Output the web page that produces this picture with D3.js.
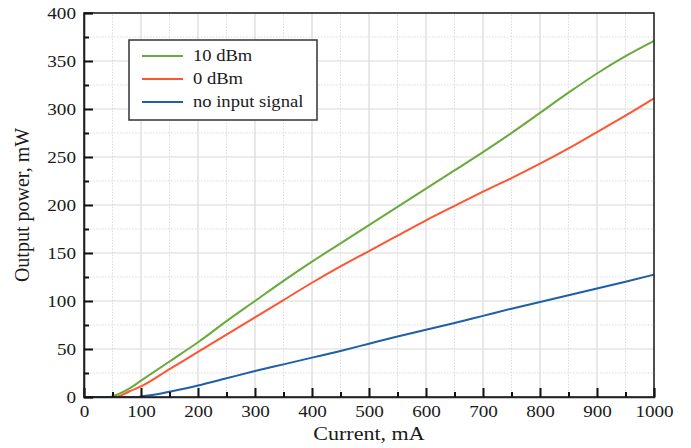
<!DOCTYPE html>
<html>
<head>
<meta charset="utf-8">
<script src="https://cdn.jsdelivr.net/npm/d3@7"></script>
<style>
  body { margin: 0; background: #fff; }
  svg text { font-family: 'Liberation Serif', 'Times New Roman', serif; }
</style>
</head>
<body>
<div id="chart"></div>
<script>
// currents in mA, power in mW
const current10 = [0, 45, 60, 80, 100, 150, 200, 250, 300, 350, 400, 450, 500, 550, 600, 650, 700, 750, 800, 850, 900, 950, 1000];
const power10 = [0, 0, 3, 9, 17, 37, 57, 79, 100, 121, 141, 160, 179, 198, 217, 236, 255, 275, 296, 317, 337, 355, 371];

const current0 = [0, 55, 70, 80, 100, 150, 200, 250, 300, 350, 400, 450, 500, 550, 600, 650, 700, 750, 800, 850, 900, 950, 1000];
const power0 = [0, 0, 3, 6, 11, 29, 47, 65, 83, 101, 119, 136, 152, 168, 184, 199, 214, 228, 243, 259, 276, 293, 311];

const currentNo = [0, 95, 100, 125, 150, 200, 250, 300, 350, 400, 450, 500, 550, 600, 650, 700, 750, 800, 850, 900, 950, 1000];
const powerNo = [0, 0, 0.5, 2.5, 5.5, 12, 19.5, 27, 34, 41, 48, 55.5, 63, 70, 77, 84.5, 92, 99, 106, 113, 120, 127.5];

const seriesNames = ['10 dBm', '0 dBm', 'no input signal'];
const seriesColors = ['#6aaa3c', '#ff5533', '#1f5fa6'];

const xTicks = [0, 100, 200, 300, 400, 500, 600, 700, 800, 900, 1000];
const yTicks = [0, 50, 100, 150, 200, 250, 300, 350, 400];

const series = [
  { name: seriesNames[0], color: seriesColors[0], pts: current10.map((c, i) => [c, power10[i]]) },
  { name: seriesNames[1], color: seriesColors[1], pts: current0.map((c, i) => [c, power0[i]]) },
  { name: seriesNames[2], color: seriesColors[2], pts: currentNo.map((c, i) => [c, powerNo[i]]) }
];

const width = 691, height = 448;
const margin = { top: 13, right: 37, bottom: 51, left: 84 };
const serif = "'Liberation Serif', 'Times New Roman', serif";
const stretch = 1.16; // the figure's lettering is a bit wider than it is tall

const svg = d3.select('#chart').append('svg')
  .attr('width', width)
  .attr('height', height);

const x = d3.scaleLinear().domain([0, 1000]).range([margin.left, width - margin.right]);
const y = d3.scaleLinear().domain([0, 400]).range([height - margin.bottom, margin.top]);

const grid = svg.append('g');
// minor grid
grid.selectAll('.vminor')
  .data(d3.range(50, 1000, 100))
  .join('line')
  .attr('x1', d => x(d)).attr('x2', d => x(d))
  .attr('y1', y(0)).attr('y2', y(400))
  .attr('stroke', '#dcdcdc').attr('stroke-width', 1).attr('stroke-dasharray', '1.5,1.5');
grid.selectAll('.hminor')
  .data(d3.range(25, 400, 50))
  .join('line')
  .attr('x1', x(0)).attr('x2', x(1000))
  .attr('y1', d => y(d)).attr('y2', d => y(d))
  .attr('stroke', '#dcdcdc').attr('stroke-width', 1).attr('stroke-dasharray', '1.5,1.5');
// major grid
grid.selectAll('.vmajor')
  .data(xTicks.slice(1, -1))
  .join('line')
  .attr('x1', d => x(d)).attr('x2', d => x(d))
  .attr('y1', y(0)).attr('y2', y(400))
  .attr('stroke', '#d9d9d9').attr('stroke-width', 1.2);
grid.selectAll('.hmajor')
  .data(yTicks.slice(1, -1))
  .join('line')
  .attr('x1', x(0)).attr('x2', x(1000))
  .attr('y1', d => y(d)).attr('y2', d => y(d))
  .attr('stroke', '#d9d9d9').attr('stroke-width', 1.2);

// curves
const line = d3.line().x(d => x(d[0])).y(d => y(d[1])).curve(d3.curveMonotoneX);
svg.append('g')
  .selectAll('path')
  .data(series)
  .join('path')
  .attr('d', d => line(d.pts))
  .attr('fill', 'none')
  .attr('stroke', d => d.color)
  .attr('stroke-width', 2);

// frame
svg.append('rect')
  .attr('x', x(0)).attr('y', y(400))
  .attr('width', x(1000) - x(0)).attr('height', y(0) - y(400))
  .attr('fill', 'none').attr('stroke', '#222').attr('stroke-width', 1.6);

// bottom axis, ticks pointing inward
svg.append('g')
  .attr('transform', `translate(0,${y(0)})`)
  .call(d3.axisBottom(x).tickValues(xTicks).tickSize(-9).tickPadding(8).tickFormat(d3.format('d')));
svg.append('g')
  .attr('transform', `translate(0,${y(0)})`)
  .call(d3.axisBottom(x).tickValues(d3.range(50, 1000, 100)).tickSize(-5).tickFormat(''))
  .call(g => g.select('.domain').remove());

svg.append('g')
  .attr('transform', `translate(${x(0)},0)`)
  .call(d3.axisLeft(y).tickValues(yTicks).tickSize(-9).tickPadding(8).tickFormat(d3.format('d')));
svg.append('g')
  .attr('transform', `translate(${x(0)},0)`)
  .call(d3.axisLeft(y).tickValues(d3.range(25, 400, 50)).tickSize(-5).tickFormat(''))
  .call(g => g.select('.domain').remove());

svg.selectAll('.domain').attr('stroke', '#222').attr('stroke-width', 1.6);
svg.selectAll('.tick line').attr('stroke', '#111').attr('stroke-width', 2);
svg.selectAll('.tick text')
  .attr('font-size', 16.5)
  .attr('fill', '#1a1a1a');

// axis titles
svg.append('text')
  .attr('x', x(500))
  .attr('y', 440)
  .attr('text-anchor', 'middle')
  .attr('font-size', 19)
  .attr('fill', '#1a1a1a')
  .text('Current, mA');

svg.append('text')
  .attr('class', 'ytitle')
  .attr('transform', `translate(29,${(y(0) + y(400)) / 2}) rotate(-90)`)
  .attr('text-anchor', 'middle')
  .attr('font-size', 20)
  .attr('fill', '#1a1a1a')
  .text('Output power, mW');

// legend
const legend = svg.append('g').attr('transform', 'translate(129,40)');
legend.append('rect')
  .attr('width', 188).attr('height', 80)
  .attr('fill', '#fff').attr('stroke', '#333').attr('stroke-width', 1.5);
const items = legend.selectAll('.item')
  .data(series)
  .join('g')
  .attr('transform', (d, i) => `translate(0,${16 + i * 23})`);
items.append('line')
  .attr('x1', 13).attr('x2', 54)
  .attr('stroke', d => d.color).attr('stroke-width', 2);
items.append('text')
  .attr('x', 64)
  .attr('dy', '0.33em')
  .attr('font-size', 16)
  .attr('fill', '#1a1a1a')
  .text(d => d.name);

svg.selectAll('text').attr('font-family', serif);

// widen horizontal lettering to match the figure
svg.selectAll('text').filter(function () { return !this.classList.contains('ytitle'); })
  .each(function () {
    const len = this.getComputedTextLength();
    if (len > 0) {
      d3.select(this)
        .attr('textLength', len * stretch)
        .attr('lengthAdjust', 'spacingAndGlyphs');
    }
  });
</script>
</body>
</html>
